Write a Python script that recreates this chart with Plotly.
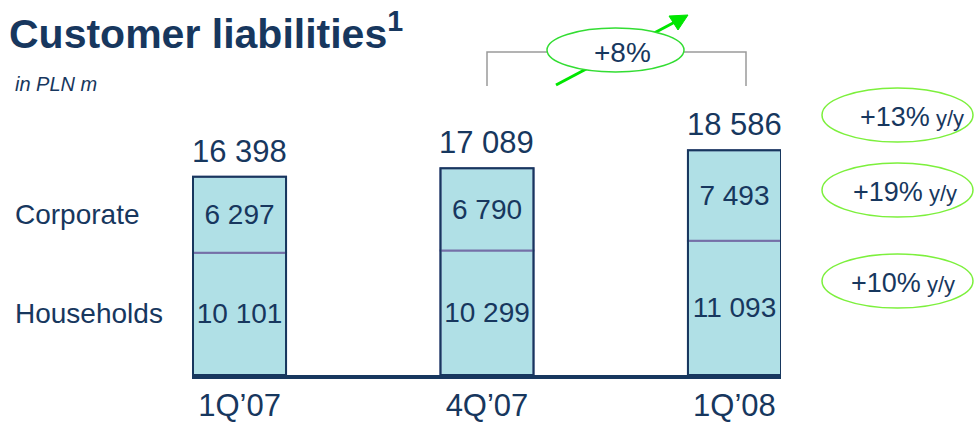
import plotly.graph_objects as go

# Customer liabilities, PLN m
quarters = ["1Q’07", "4Q’07", "1Q’08"]
households = [10101, 10299, 11093]
corporate = [6297, 6790, 7493]
totals = [16398, 17089, 18586]
segment_names = ["Corporate", "Households"]
yoy_labels = ["+13%", "+19%", "+10%"]   # total, corporate, households
qoq_label = "+8%"

NAVY = "#17375e"
FILL = "#b0e0e6"
DIVIDER = "#7570a8"
FONT = "Liberation Sans, Arial, sans-serif"

W, H = 976, 427
L, R, T, B = 192, 195, 40, 52
Y_MAX = 27700
BAR_W = 0.376


def px(x):
    return (x - L) / (W - L - R)


def py(y):
    return (H - B - y) / (H - T - B)


def fmt(v):
    return f"{v:,}".replace(",", " ")


fig = go.Figure()

fig.add_trace(go.Bar(
    x=quarters, y=households, width=BAR_W, name=segment_names[1],
    marker=dict(color=FILL, line=dict(color=DIVIDER, width=2)),
    text=[fmt(v) for v in households],
    textposition="inside", insidetextanchor="middle", constraintext="none",
    textfont=dict(family=FONT, size=28, color=NAVY),
))
fig.add_trace(go.Bar(
    x=quarters, y=corporate, base=households, width=BAR_W, name=segment_names[0],
    marker=dict(color=FILL, line=dict(color=DIVIDER, width=2)),
    text=[fmt(v) for v in corporate],
    textposition="inside", insidetextanchor="middle", constraintext="none",
    textfont=dict(family=FONT, size=28, color=NAVY),
))
# outer frame of each stacked column
fig.add_trace(go.Bar(
    x=quarters, y=totals, width=BAR_W, name="Total",
    marker=dict(color="rgba(0,0,0,0)", line=dict(color=NAVY, width=2)),
))

annotations = []
for q, t in zip(quarters, totals):
    annotations.append(dict(
        x=q, y=t, xref="x", yref="y", yanchor="bottom", yshift=6,
        text=fmt(t), showarrow=False,
        font=dict(family=FONT, size=31, color=NAVY)))

# segment names beside the first column
annotations.append(dict(
    x=px(13), y=households[0] + corporate[0] / 2, xref="paper", yref="y",
    xanchor="left", yanchor="middle", text=segment_names[0], showarrow=False,
    font=dict(family=FONT, size=28, color=NAVY)))
annotations.append(dict(
    x=px(13), y=households[0] / 2, xref="paper", yref="y",
    xanchor="left", yanchor="middle", text=segment_names[1], showarrow=False,
    font=dict(family=FONT, size=28, color=NAVY)))

# title and unit
annotations.append(dict(
    x=px(7), y=py(31), xref="paper", yref="paper", xanchor="left", yanchor="middle",
    text="<b>Customer liabilities<sup>1</sup></b>", showarrow=False,
    font=dict(family=FONT, size=41, color=NAVY)))
annotations.append(dict(
    x=px(13), y=py(84), xref="paper", yref="paper", xanchor="left", yanchor="middle",
    text="<i>in PLN m</i>", showarrow=False,
    font=dict(family=FONT, size=20, color=NAVY)))

shapes = []
# year-on-year growth badges
badge_y = [115, 190, 281]
text_x = [912, 905, 903]
for lbl, cy, tx in zip(yoy_labels, badge_y, text_x):
    shapes.append(dict(
        type="circle", xref="paper", yref="paper",
        x0=px(822), x1=px(973), y0=py(cy + 27), y1=py(cy - 27),
        line=dict(color="#7cf03c", width=1.5), fillcolor="rgba(0,0,0,0)"))
    annotations.append(dict(
        x=px(tx), y=py(cy + 2), xref="paper", yref="paper",
        xanchor="center", yanchor="middle", showarrow=False,
        text=f"{lbl}<span style='font-size:22px'> y/y</span>",
        font=dict(family=FONT, size=27, color=NAVY)))

# quarter-on-quarter bracket with rising arrow
shapes.append(dict(
    type="path", xref="paper", yref="paper",
    path=(f"M {px(487)} {py(86)} L {px(487)} {py(52)} "
          f"L {px(746)} {py(52)} L {px(746)} {py(86)}"),
    line=dict(color="#9a9a9a", width=1.5)))
shapes.append(dict(
    type="line", xref="paper", yref="paper",
    x0=px(556), y0=py(85), x1=px(674), y1=py(22.5),
    line=dict(color="#00e600", width=3)))
shapes.append(dict(
    type="path", xref="paper", yref="paper",
    path=(f"M {px(688)} {py(15)} L {px(669)} {py(16)} "
          f"L {px(678)} {py(30)} Z"),
    fillcolor="#00e600", line=dict(color="#00e600", width=1)))
shapes.append(dict(
    type="circle", xref="paper", yref="paper",
    x0=px(547), x1=px(684), y0=py(72), y1=py(28),
    line=dict(color="#33dd33", width=1.5), fillcolor="white"))
annotations.append(dict(
    x=px(622), y=py(52), xref="paper", yref="paper",
    xanchor="center", yanchor="middle", showarrow=False, text=qoq_label,
    font=dict(family=FONT, size=28, color=NAVY)))

fig.update_layout(
    width=W, height=H,
    margin=dict(l=L, r=R, t=T, b=B, pad=0, autoexpand=False),
    paper_bgcolor="white", plot_bgcolor="white",
    barmode="overlay", showlegend=False,
    annotations=annotations, shapes=shapes,
    xaxis=dict(
        type="category", range=[-0.192, 2.188], automargin=False,
        showline=True, linecolor=NAVY, linewidth=4,
        showgrid=False, zeroline=False, ticks="",
        tickfont=dict(family=FONT, size=31, color=NAVY),
        ticklabelstandoff=0,
    ),
    yaxis=dict(range=[0, Y_MAX], visible=False, showgrid=False,
               zeroline=False, automargin=False),
)

fig.write_html("out.html")
